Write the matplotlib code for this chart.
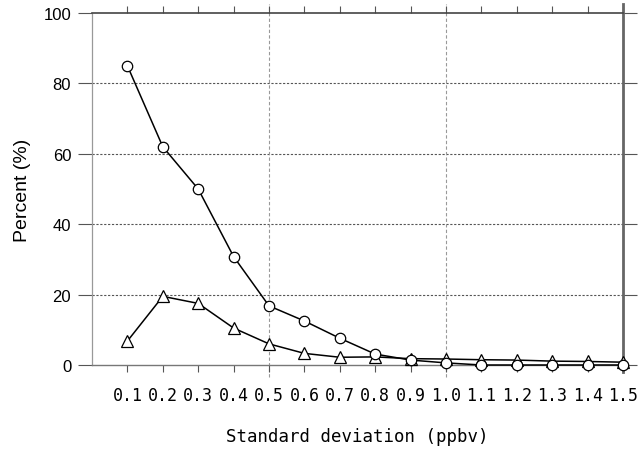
import matplotlib
matplotlib.use("Agg")
import matplotlib.pyplot as plt

std_dev = [0.1, 0.2, 0.3, 0.4, 0.5, 0.6, 0.7, 0.8, 0.9, 1.0, 1.1, 1.2, 1.3, 1.4, 1.5]
x_labels = ["0.1", "0.2", "0.3", "0.4", "0.5", "0.6", "0.7", "0.8", "0.9", "1.0",
            "1.1", "1.2", "1.3", "1.4", "1.5"]
circle_pct = [85, 62, 50, 30.8, 16.8, 12.5, 7.6, 3.1, 1.4, 0.6, 0.0, 0.0, 0.0, 0.0, 0.0]
triangle_pct = [6.8, 19.5, 17.5, 10.5, 6.0, 3.3, 2.2, 2.3, 1.8, 1.7, 1.5, 1.4, 1.1, 1.0, 0.8]
y_ticks = [0, 20, 40, 60, 80, 100]
v_lines = [0.5, 1.0]

fig = plt.figure(figsize=(6.38, 4.52), dpi=100)
ax = fig.add_axes([92/638, 1-366/452, (623-92)/638, (366-14)/452])

ax.plot(std_dev, circle_pct, color="black", lw=1.1, marker="o", ms=7.5,
        mfc="white", mec="black", mew=0.9, zorder=4, clip_on=False)
ax.plot(std_dev, triangle_pct, color="black", lw=1.1, marker="^", ms=9,
        mfc="white", mec="black", mew=0.9, zorder=3, clip_on=False)

ax.set_xlim(0, 1.5)
ax.set_ylim(0, 100)

for y in y_ticks[1:-1]:
    ax.axhline(y, color="#555555", lw=0.8, ls=(0, (2, 1.5)), zorder=1)
for x in v_lines:
    ax.axvline(x, ymin=-0.034, ymax=1.026, color="#999999", lw=0.8, ls=(0, (3, 2)),
               zorder=1, clip_on=False)

ax.set_xticks(std_dev)
ax.set_xticklabels(x_labels, family=["DejaVu Sans Mono"], fontsize=12)
ax.set_yticks(y_ticks)
ax.set_yticklabels([str(v) for v in y_ticks],
                   family=["Liberation Sans Narrow", "Liberation Sans"], fontsize=12)

ax.tick_params(axis="x", direction="out", length=5, width=0.8, color="#555555",
               pad=10, bottom=True, top=True)
ax.tick_params(axis="y", direction="out", length=10, width=0.8, color="#555555",
               pad=5, left=True, right=True)

ax.spines["left"].set_color("#999999")
ax.spines["left"].set_linewidth(0.9)
ax.spines["bottom"].set_color("#777777")
ax.spines["bottom"].set_linewidth(1.0)
ax.spines["top"].set_color("#444444")
ax.spines["top"].set_linewidth(1.2)
ax.spines["right"].set_visible(False)
ax.axvline(ax.get_xlim()[1], ymin=-0.02, ymax=1.026, color="#666666", lw=2.0,
           zorder=2, clip_on=False)

ax.set_xlabel("Standard deviation (ppbv)", family=["DejaVu Sans Mono"], fontsize=12.5,
              labelpad=17)
ax.set_ylabel("Percent (%)", family=["Liberation Sans", "DejaVu Sans"], fontsize=14,
              labelpad=9)

fig.savefig("out.png", dpi=100)
